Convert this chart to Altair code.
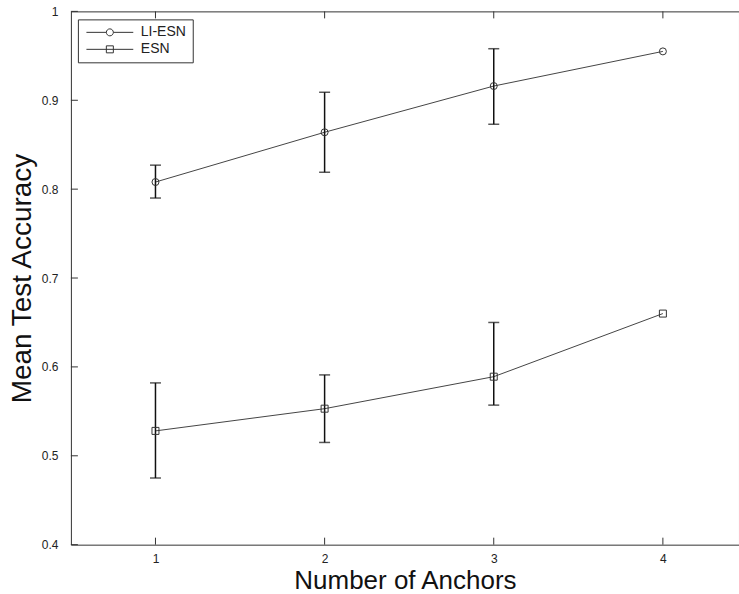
import altair as alt
import pandas as pd

anchors = [1, 2, 3, 4]
series_names = ["LI-ESN", "ESN"]

li_mean = [0.808, 0.864, 0.916, 0.955]
li_lo = [0.790, 0.819, 0.873, None]
li_hi = [0.827, 0.909, 0.958, None]

esn_mean = [0.528, 0.553, 0.589, 0.660]
esn_lo = [0.475, 0.515, 0.557, None]
esn_hi = [0.582, 0.591, 0.650, None]

x_ticks = [1, 2, 3, 4]
y_ticks = [0.4, 0.5, 0.6, 0.7, 0.8, 0.9, 1.0]

rows = []
for name, means, los, his in [("LI-ESN", li_mean, li_lo, li_hi), ("ESN", esn_mean, esn_lo, esn_hi)]:
    for a, m, lo, hi in zip(anchors, means, los, his):
        rows.append({"series": name, "anchors": a, "mean": m, "lo": lo, "hi": hi})
df = pd.DataFrame(rows)
err_df = df.dropna()

W, H = 669, 534
FONT = "Liberation Sans"
INK = "#222222"

xs = alt.Scale(domain=[0.5, 4.45], nice=False, zero=False)
ys = alt.Scale(domain=[0.4, 1.0], nice=False, zero=False)

x_axis = alt.Axis(values=x_ticks, tickSize=0, domain=False, grid=False, labelPadding=9,
                  labelFontSize=12, labelFont=FONT, labelColor=INK,
                  title="Number of Anchors", titleFontSize=26, titleFont=FONT,
                  titleFontWeight="normal", titleColor="#111111", titlePadding=3)
y_axis = alt.Axis(values=y_ticks, tickSize=0, domain=False, grid=False, labelPadding=13,
                  format=".1~f", labelFontSize=12, labelFont=FONT, labelColor=INK,
                  title="Mean Test Accuracy", titleFontSize=28, titleFont=FONT,
                  titleFontWeight="normal", titleColor="#111111", titlePadding=5)


def X(field):
    return alt.X(field, scale=xs, axis=x_axis, title="Number of Anchors")


def Y(field):
    return alt.Y(field, scale=ys, axis=y_axis, title="Mean Test Accuracy")


base = alt.Chart(df)

lines = base.mark_line(color="#444444", strokeWidth=1).encode(
    x=X("anchors:Q"), y=Y("mean:Q"), detail="series:N",
)

err_base = alt.Chart(err_df)
err_rule = err_base.mark_rule(color="#111111", strokeWidth=1.5).encode(
    x=X("anchors:Q"), y=Y("lo:Q"), y2="hi:Q",
)
cap_lo = err_base.mark_tick(color="#111111", thickness=1.5, size=11, orient="horizontal").encode(
    x=X("anchors:Q"), y=Y("lo:Q"),
)
cap_hi = err_base.mark_tick(color="#111111", thickness=1.5, size=11, orient="horizontal").encode(
    x=X("anchors:Q"), y=Y("hi:Q"),
)

pts_li = base.transform_filter(alt.datum.series == "LI-ESN").mark_point(
    shape="circle", size=49, filled=False, color="#333333", strokeWidth=1, opacity=1
).encode(x=X("anchors:Q"), y=Y("mean:Q"))
pts_esn = base.transform_filter(alt.datum.series == "ESN").mark_point(
    shape="square", size=49, filled=False, color="#333333", strokeWidth=1, opacity=1
).encode(x=X("anchors:Q"), y=Y("mean:Q"))

yt_df = pd.DataFrame({"v": y_ticks})
xt_df = pd.DataFrame({"v": x_ticks})
ytick_marks = alt.Chart(yt_df).mark_rule(color="#333333", strokeWidth=1).encode(
    y=Y("v:Q"), x=alt.value(0), x2=alt.value(7)
)
xtick_bottom = alt.Chart(xt_df).mark_rule(color="#333333", strokeWidth=1).encode(
    x=X("v:Q"), y=alt.value(H), y2=alt.value(H - 7)
)
xtick_top = alt.Chart(xt_df).mark_rule(color="#333333", strokeWidth=1).encode(
    x=X("v:Q"), y=alt.value(0), y2=alt.value(7)
)

circle_path = "M-6.7,0H-1A1,1 0 1,1 1,0A1,1 0 1,1 -1,0M1,0H6.7"
square_path = "M-6.7,0H6.7M-1,-1H1V1H-1Z"

legend_layer = base.transform_filter("false").mark_point(
    filled=False, color="#333333", strokeWidth=1, opacity=1
).encode(
    x=X("anchors:Q"),
    y=Y("mean:Q"),
    shape=alt.Shape(
        "series:N",
        scale=alt.Scale(domain=series_names, range=[circle_path, square_path]),
        legend=alt.Legend(
            title=None, orient="none", legendX=7, legendY=8,
            strokeColor="#333333", fillColor="white", padding=6,
            symbolSize=49, symbolOffset=19, labelOffset=24,
            labelFontSize=14, labelFont=FONT, labelColor=INK,
            symbolStrokeWidth=1, symbolStrokeColor="#333333", symbolFillColor="transparent",
            rowPadding=3,
        ),
    ),
)

chart = alt.layer(
    lines, err_rule, cap_lo, cap_hi, pts_li, pts_esn,
    ytick_marks, xtick_bottom, xtick_top, legend_layer,
).properties(
    width=W, height=H,
    autosize=alt.AutoSizeParams(type="none"),
    padding={"left": 71, "top": 11, "right": 0, "bottom": 49},
    background="white",
).configure_view(stroke="#333333", strokeWidth=1)

chart.save("out.html", embed_options={"renderer": "svg", "actions": False})
